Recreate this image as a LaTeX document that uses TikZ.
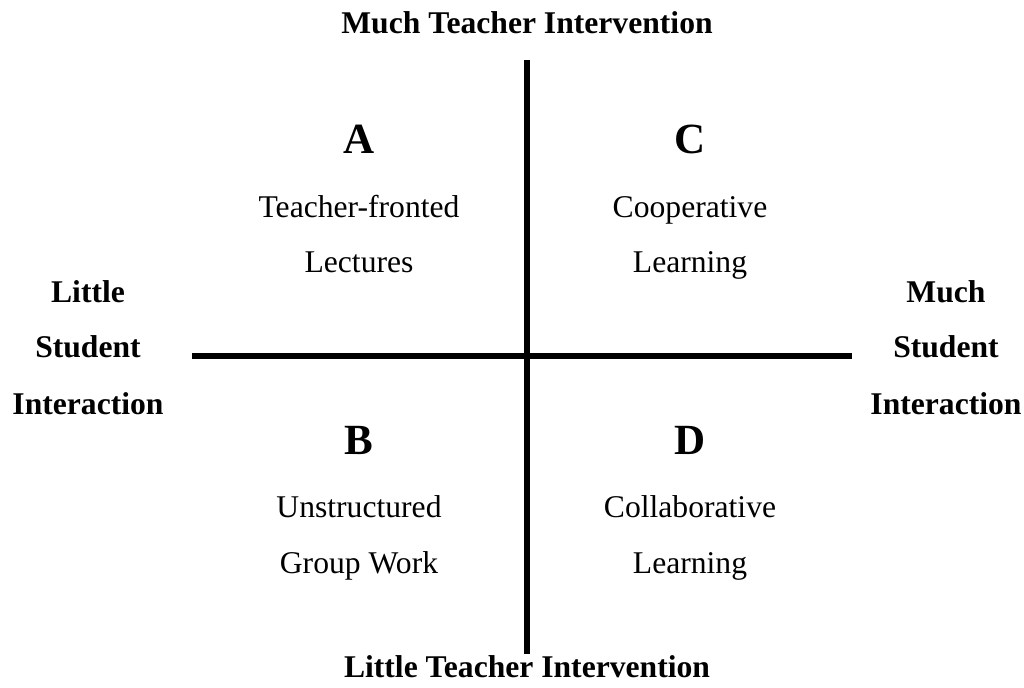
\documentclass[tikz,border=0pt]{standalone}
\usepackage{fontspec}
\setmainfont{Liberation Serif}
\usepackage{tikz}
\usetikzlibrary{positioning}

\begin{document}
\begin{tikzpicture}[x=0.02cm,y=-0.02cm]
\tikzstyle{axis}=[line width=3.3pt]
\tikzstyle{pole}=[font=\fontsize{18}{22}\selectfont\bfseries,anchor=base,inner sep=0pt]
\tikzstyle{letter}=[font=\fontsize{24.5}{28}\selectfont\bfseries,anchor=base,inner sep=0pt]
\tikzstyle{method}=[font=\fontsize{18}{22}\selectfont,anchor=base,inner sep=0pt]
\useasboundingbox (0,0) rectangle (1024,688);
% axes
\coordinate (top) at (527,60);
\coordinate (bottom) at (527,654);
\coordinate (left) at (192,356);
\coordinate (right) at (852,356);
\draw[axis] (top) -- (bottom);
\draw[axis] (left) -- (right);
% axis ends
\node[pole] (tmuch) at (527,34) {Much Teacher Intervention};
\node[pole] (tlittle) at (527,677) {Little Teacher Intervention};
\node[pole] (sl1) at (88,303) {Little};
\node[pole] (sl2) at (88,358) {Student};
\node[pole] (sl3) at (88,415) {Interaction};
\node[pole] (sm1) at (946,303) {Much};
\node[pole] (sm2) at (946,358) {Student};
\node[pole] (sm3) at (946,415) {Interaction};
% quadrants
\node[letter] (A) at (359,154) {A};
\node[method] (A1) at (359,218) {Teacher-fronted};
\node[method] (A2) at (359,273) {Lectures};
\node[letter] (C) at (690,154) {C};
\node[method] (C1) at (690,218) {Cooperative};
\node[method] (C2) at (690,273) {Learning};
\node[letter] (B) at (359,455) {B};
\node[method] (B1) at (359,518) {Unstructured};
\node[method] (B2) at (359,574) {Group Work};
\node[letter] (D) at (690,455) {D};
\node[method] (D1) at (690,518) {Collaborative};
\node[method] (D2) at (690,574) {Learning};
\end{tikzpicture}
\end{document}
